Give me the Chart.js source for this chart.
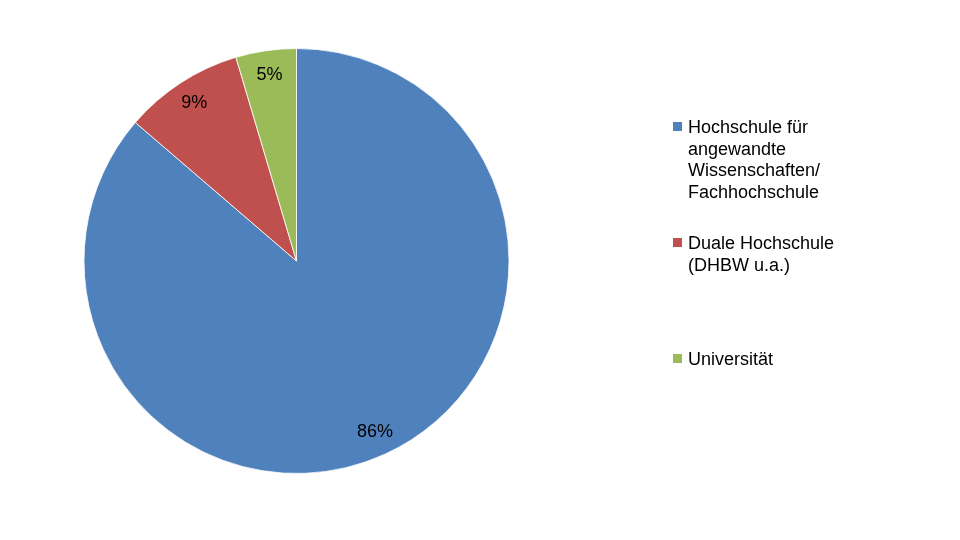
<!DOCTYPE html>
<html>
<head>
<meta charset="utf-8">
<script src="https://cdn.jsdelivr.net/npm/chart.js@4"></script>
<style>
  html, body { margin: 0; padding: 0; background: #fff; }
  #wrap { width: 960px; height: 540px; }
</style>
</head>
<body>
<div id="wrap"><canvas id="myChart" width="960" height="540"></canvas></div>
<script>
// --- Data ---
const categories = [
    ['Hochschule für', 'angewandte', 'Wissenschaften/', 'Fachhochschule'],
    ['Duale Hochschule', '(DHBW u.a.)'],
    ['Universität']
];
const shares = [86.3, 9.1, 4.6];
const colors = ['#4F81BD', '#C0504D', '#9BBB59'];

const FONT = "'Liberation Sans', Arial, sans-serif";

// percentage labels inside the slices
const sliceLabels = {
    id: 'sliceLabels',
    afterDatasetsDraw(chart) {
        const ctx = chart.ctx;
        const meta = chart.getDatasetMeta(0);
        const total = shares.reduce((a, b) => a + b, 0);
        ctx.save();
        ctx.font = '18px ' + FONT;
        ctx.fillStyle = '#000';
        ctx.textAlign = 'center';
        ctx.textBaseline = 'middle';
        meta.data.forEach((arc, i) => {
            const mid = (arc.startAngle + arc.endAngle) / 2;
            const r = arc.outerRadius * 0.885;
            const x = arc.x + Math.cos(mid) * r;
            const y = arc.y + Math.sin(mid) * r;
            ctx.fillText(Math.round(shares[i] / total * 100) + '%', x, y);
        });
        ctx.restore();
    }
};

// legend on the right, multi-line entries
const sideLegend = {
    id: 'sideLegend',
    afterDraw(chart) {
        const ctx = chart.ctx;
        const left = 673, textX = 688, firstBase = 133, step = 116, lineH = 21.5;
        ctx.save();
        ctx.font = '18px ' + FONT;
        ctx.textBaseline = 'alphabetic';
        ctx.textAlign = 'left';
        categories.forEach((lines, i) => {
            const base = firstBase + step * i;
            ctx.fillStyle = colors[i];
            ctx.fillRect(left, base - 11, 9, 9);
            ctx.fillStyle = '#000';
            lines.forEach((t, j) => ctx.fillText(t, textX, base + j * lineH));
        });
        ctx.restore();
    }
};

const ctx = document.getElementById('myChart').getContext('2d');
new Chart(ctx, {
    type: 'pie',
    data: {
        labels: categories,
        datasets: [{
            data: shares,
            backgroundColor: colors,
            borderColor: 'rgba(255,255,255,0.8)',
            borderWidth: 1
        }]
    },
    options: {
        responsive: false,
        animation: false,
        layout: { padding: { left: 83, top: 48, right: 450, bottom: 66 } },
        plugins: {
            legend: { display: false },
            tooltip: { enabled: false }
        }
    },
    plugins: [sliceLabels, sideLegend]
});
</script>
</body>
</html>
